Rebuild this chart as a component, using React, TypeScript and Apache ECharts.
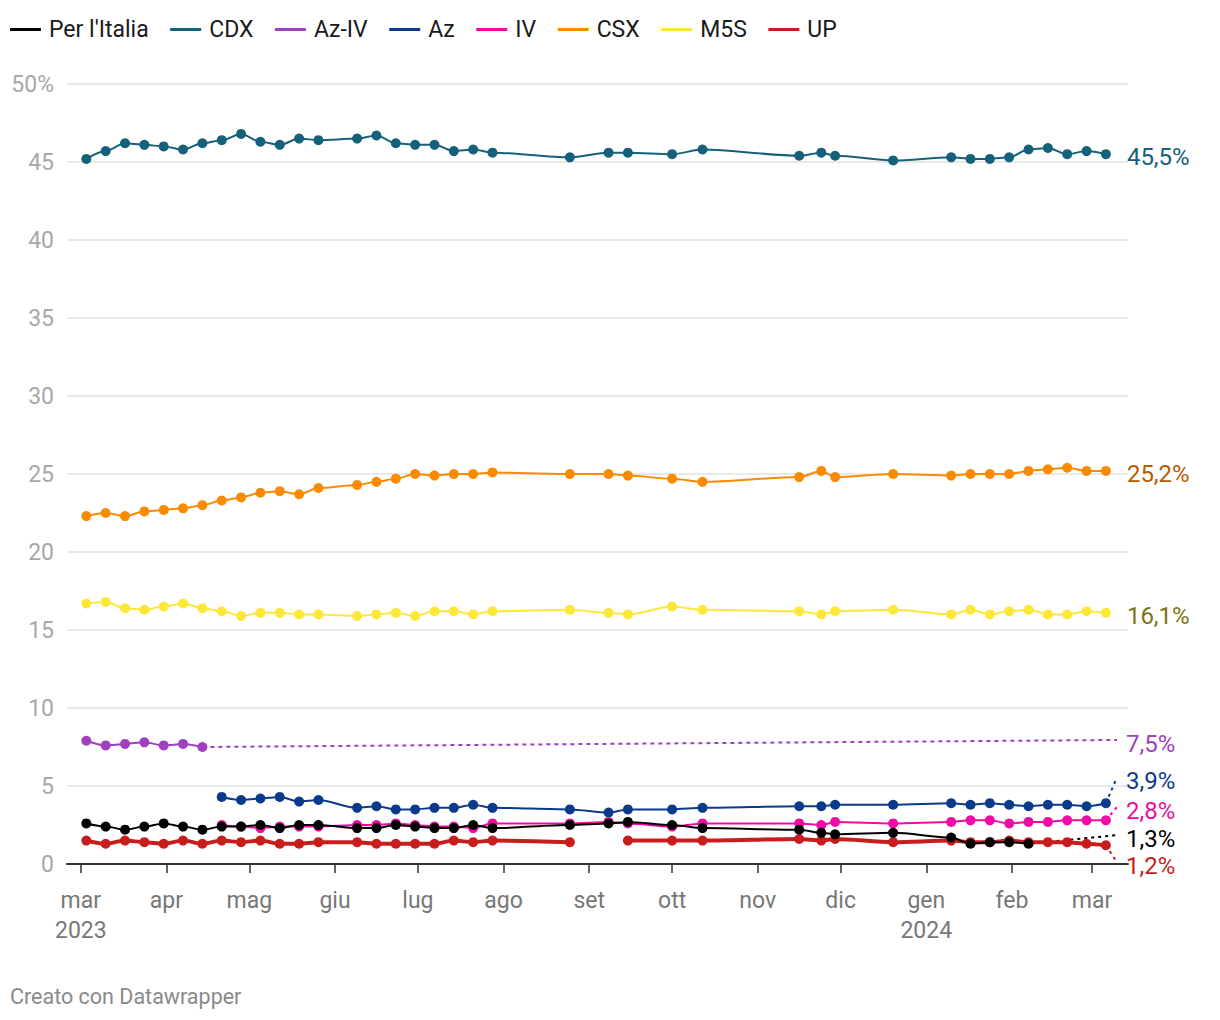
import React, { useEffect, useRef } from "react";
import * as echarts from "echarts";

// Poll dates (x)
const DATES = [
  "2023-03-03", "2023-03-10", "2023-03-17", "2023-03-24", "2023-03-31",
  "2023-04-07", "2023-04-14", "2023-04-21", "2023-04-28", "2023-05-05",
  "2023-05-12", "2023-05-19", "2023-05-26", "2023-06-09", "2023-06-16",
  "2023-06-23", "2023-06-30", "2023-07-07", "2023-07-14", "2023-07-21",
  "2023-07-28", "2023-08-25", "2023-09-08", "2023-09-15", "2023-10-01",
  "2023-10-12", "2023-11-16", "2023-11-24", "2023-11-29", "2023-12-20",
  "2024-01-10", "2024-01-17", "2024-01-24", "2024-01-31", "2024-02-07",
  "2024-02-14", "2024-02-21", "2024-02-28", "2024-03-06",
];

// Series values (start index into DATES noted per series below)
const PER_ITALIA = [
  2.6, 2.4, 2.2, 2.4, 2.6, 2.4, 2.2, 2.4, 2.4, 2.5, 2.3, 2.5, 2.5, 2.3, 2.3,
  2.5, 2.4, 2.3, 2.3, 2.5, 2.3, 2.5, 2.6, 2.7, 2.5, 2.3, 2.2, 2.0, 1.9, 2.0,
  1.7, 1.3, 1.4, 1.4, 1.3,
];
const CDX = [
  45.2, 45.7, 46.2, 46.1, 46.0, 45.8, 46.2, 46.4, 46.8, 46.3, 46.1, 46.5, 46.4,
  46.5, 46.7, 46.2, 46.1, 46.1, 45.7, 45.8, 45.6, 45.3, 45.6, 45.6, 45.5, 45.8,
  45.4, 45.6, 45.4, 45.1, 45.3, 45.2, 45.2, 45.3, 45.8, 45.9, 45.5, 45.7, 45.5,
];
const AZ_IV = [7.9, 7.6, 7.7, 7.8, 7.6, 7.7, 7.5];
const AZ = [
  4.3, 4.1, 4.2, 4.3, 4.0, 4.1, 3.6, 3.7, 3.5, 3.5, 3.6, 3.6, 3.8, 3.6, 3.5,
  3.3, 3.5, 3.5, 3.6, 3.7, 3.7, 3.8, 3.8, 3.9, 3.8, 3.9, 3.8, 3.7, 3.8, 3.8,
  3.7, 3.9,
];
const IV = [
  2.5, 2.4, 2.3, 2.4, 2.4, 2.4, 2.5, 2.5, 2.6, 2.5, 2.4, 2.4, 2.3, 2.6, 2.6,
  2.7, 2.6, 2.4, 2.6, 2.6, 2.5, 2.7, 2.6, 2.7, 2.8, 2.8, 2.6, 2.7, 2.7, 2.8,
  2.8, 2.8,
];
const CSX = [
  22.3, 22.5, 22.3, 22.6, 22.7, 22.8, 23.0, 23.3, 23.5, 23.8, 23.9, 23.7, 24.1,
  24.3, 24.5, 24.7, 25.0, 24.9, 25.0, 25.0, 25.1, 25.0, 25.0, 24.9, 24.7, 24.5,
  24.8, 25.2, 24.8, 25.0, 24.9, 25.0, 25.0, 25.0, 25.2, 25.3, 25.4, 25.2, 25.2,
];
const M5S = [
  16.7, 16.8, 16.4, 16.3, 16.5, 16.7, 16.4, 16.2, 15.9, 16.1, 16.1, 16.0, 16.0,
  15.9, 16.0, 16.1, 15.9, 16.2, 16.2, 16.0, 16.2, 16.3, 16.1, 16.0, 16.5, 16.3,
  16.2, 16.0, 16.2, 16.3, 16.0, 16.3, 16.0, 16.2, 16.3, 16.0, 16.0, 16.2, 16.1,
];
const UP = [
  1.5, 1.3, 1.5, 1.4, 1.3, 1.5, 1.3, 1.5, 1.4, 1.5, 1.3, 1.3, 1.4, 1.4, 1.3,
  1.3, 1.3, 1.3, 1.5, 1.4, 1.5, 1.4, null, 1.5, 1.5, 1.5, 1.6, 1.5, 1.6, 1.4,
  1.5, 1.4, 1.4, 1.5, 1.4, 1.4, 1.4, 1.3, 1.2,
];

// Label connector anchors (value where the dotted leader ends)
const CONNECTOR_END_DATE = "2024-03-10";
const CONNECTOR_END_VALUES: Record<string, number> = {
  "Az-IV": 7.95,
  Az: 5.55,
  IV: 3.65,
  "Per l'Italia": 1.85,
  UP: 0.1,
};

// Axis ticks
const MONTH_TICKS = [
  "2023-03-01", "2023-04-01", "2023-05-01", "2023-06-01", "2023-07-01",
  "2023-08-01", "2023-09-01", "2023-10-01", "2023-11-01", "2023-12-01",
  "2024-01-01", "2024-02-01", "2024-03-01",
];
const MONTH_LABELS = [
  "mar\n2023", "apr", "mag", "giu", "lug", "ago", "set", "ott", "nov", "dic",
  "gen\n2024", "feb", "mar",
];
const X_MIN = "2023-02-24";
const X_MAX = "2024-03-14";
const Y_MIN = 0;
const Y_MAX = 50;
const Y_STEP = 5;

const toTs = (s: string) =>
  Date.UTC(+s.slice(0, 4), +s.slice(5, 7) - 1, +s.slice(8, 10));

const FONT = "Roboto";

type Def = {
  name: string;
  values: (number | null)[];
  start: number;
  color: string;
  labelColor: string;
  width: number;
  z: number;
  dash?: number[];
};

const DEFS: Def[] = [
  { name: "Per l'Italia", values: PER_ITALIA, start: 0, color: "#000000", labelColor: "#000000", width: 2, z: 7, dash: [3, 4] },
  { name: "CDX", values: CDX, start: 0, color: "#15607a", labelColor: "#15607a", width: 2, z: 3 },
  { name: "Az-IV", values: AZ_IV, start: 0, color: "#a03fbf", labelColor: "#a03fbf", width: 2, z: 3, dash: [4, 4] },
  { name: "Az", values: AZ, start: 7, color: "#0a3a8c", labelColor: "#0a3a8c", width: 2, z: 4, dash: [3, 4] },
  { name: "IV", values: IV, start: 7, color: "#f20aa6", labelColor: "#e5109c", width: 2, z: 5, dash: [3, 4] },
  { name: "CSX", values: CSX, start: 0, color: "#fa8b00", labelColor: "#b95c00", width: 2, z: 3 },
  { name: "M5S", values: M5S, start: 0, color: "#fde83a", labelColor: "#7c7412", width: 2, z: 3 },
  { name: "UP", values: UP, start: 0, color: "#c71e1d", labelColor: "#c71e1d", width: 4, z: 6, dash: [3, 4] },
];

const fmt = (v: number) => v.toFixed(1).replace(".", ",") + "%";

function buildOption() {
  const series: any[] = [];
  const endTs = toTs(CONNECTOR_END_DATE);
  DEFS.forEach((d) => {
    const data = d.values.map((v, i) => [toTs(DATES[d.start + i]), v == null ? "-" : v]);
    const lastIdx = d.values.length - 1;
    const lastV = d.values[lastIdx] as number;
    const lastTs = toTs(DATES[d.start + lastIdx]);
    const label = fmt(lastV);
    const hasConn = CONNECTOR_END_VALUES[d.name] != null;
    const labelStyle = {
      show: true,
      formatter: () => label,
      color: d.labelColor,
      fontSize: 24,
      fontFamily: FONT,
    };
    series.push({
      type: "line",
      name: d.name,
      data,
      color: d.color,
      smooth: 0.3,
      smoothMonotone: "x",
      symbol: "circle",
      symbolSize: 10,
      showSymbol: true,
      showAllSymbol: true,
      lineStyle: { width: d.width, color: d.color },
      itemStyle: { color: d.color },
      z: d.z,
      emphasis: { disabled: true },
      endLabel: hasConn ? { show: false } : { ...labelStyle, distance: 21, offset: [0, 3] },
    });
    if (hasConn) {
      series.push({
        type: "line",
        name: d.name + " ",
        data: [
          [lastTs, lastV],
          [endTs, CONNECTOR_END_VALUES[d.name]],
        ],
        symbol: "none",
        silent: true,
        z: 1,
        lineStyle: { width: 2, color: d.color, type: d.dash },
        itemStyle: { color: d.color },
        emphasis: { disabled: true },
        endLabel: { ...labelStyle, distance: 9, offset: [0, 4] },
      });
    }
  });

  return {
    animation: false,
    textStyle: { fontFamily: FONT },
    legend: {
      left: 10,
      top: 18,
      padding: 0,
      itemWidth: 31,
      itemHeight: 3,
      itemGap: 21.5,
      icon: "rect",
      selectedMode: false,
      data: DEFS.map((d) => ({ name: d.name, icon: "rect" })),
      textStyle: { fontSize: 23, color: "#1a1a1a", fontFamily: FONT, padding: [0, 0, 0, 3] },
    },
    grid: { left: 67, right: 92, top: 84, bottom: 156, containLabel: false },
    xAxis: {
      type: "value",
      min: toTs(X_MIN),
      max: toTs(X_MAX),
      splitLine: { show: false },
      axisLine: { show: true, onZero: true, lineStyle: { color: "#333333", width: 2 } },
      axisTick: {
        show: true,
        customValues: MONTH_TICKS.map(toTs),
        length: 9,
        lineStyle: { color: "#333333", width: 1.5 },
      },
      axisLabel: {
        show: true,
        customValues: MONTH_TICKS.map(toTs),
        formatter: (v: number) => {
          const i = MONTH_TICKS.map(toTs).indexOf(v);
          return i >= 0 ? MONTH_LABELS[i] : "";
        },
        color: "#777777",
        fontSize: 23,
        lineHeight: 30,
        margin: 21,
        fontFamily: FONT,
      },
    },
    yAxis: {
      type: "value",
      min: Y_MIN,
      max: Y_MAX,
      interval: Y_STEP,
      axisLine: { show: false },
      axisTick: { show: false },
      axisLabel: {
        formatter: (v: number) => (v === Y_MAX ? v + "%" : String(v)),
        color: "#a8a8a8",
        fontSize: 23,
        margin: 13,
        fontFamily: FONT,
      },
      splitLine: { lineStyle: { color: "#e2e2e2", width: 1.5 } },
    },
    graphic: [
      {
        type: "text",
        left: 10,
        top: 985,
        style: { text: "Creato con Datawrapper", fill: "#8a8a8a", fontSize: 21.5, fontFamily: FONT },
      },
    ],
    series,
  };
}

export default function App() {
  const ref = useRef<HTMLDivElement>(null);
  useEffect(() => {
    if (!ref.current) return;
    const chart = echarts.init(ref.current, null, { renderer: "svg" });
    chart.setOption(buildOption() as any);
    return () => chart.dispose();
  }, []);
  return (
    <div
      ref={ref}
      style={{ position: "absolute", left: 0, top: 0, width: 1220, height: 1020, background: "#fff" }}
    />
  );
}
